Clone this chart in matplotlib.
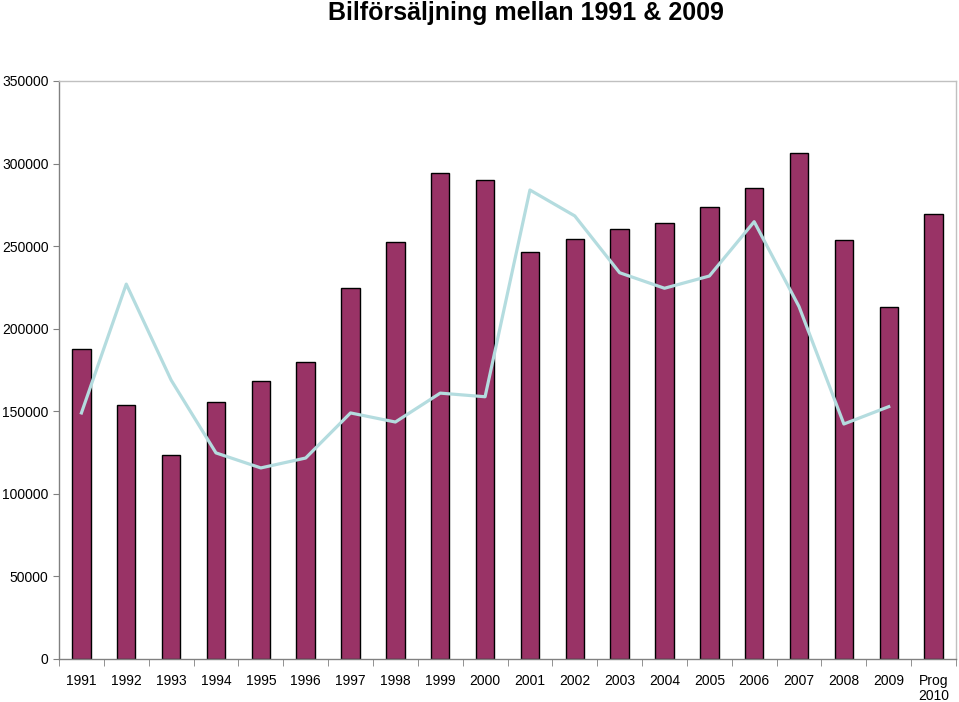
import matplotlib.pyplot as plt
import numpy as np

plt.rcParams['font.family'] = ['Liberation Sans', 'DejaVu Sans']

# data
years = ["1991", "1992", "1993", "1994", "1995", "1996", "1997", "1998", "1999", "2000",
         "2001", "2002", "2003", "2004", "2005", "2006", "2007", "2008", "2009", "Prog\n2010"]
bar_values = [188000, 154000, 123500, 155600, 168500, 180000, 224800, 252500, 294500, 290000,
              246500, 254500, 260500, 263800, 273800, 285500, 306500, 253800, 213200, 269500]
line_values = [149000, 227000, 168900, 124800, 115700, 121700, 149000, 143500, 161000, 158800,
               284000, 268300, 233900, 224500, 231900, 264800, 213400, 142300, 152800]

fig = plt.figure(figsize=(9.59, 7.02), dpi=100)
ax = fig.add_axes([59 / 959, 1 - 659 / 702, (956 - 59) / 959, (659 - 81) / 702])

x = np.arange(len(years))
ax.bar(x, bar_values, width=0.41, color="#993366", edgecolor="black", linewidth=1.0, zorder=2)
ax.plot(x[:len(line_values)], line_values, color="#B4DCDF", linewidth=2.3, zorder=3)

ax.set_xlim(-0.5, len(years) - 0.5)
ax.set_ylim(0, 350000)
ax.set_yticks(np.arange(0, 350001, 50000))
ax.set_yticklabels([str(v) for v in range(0, 350001, 50000)], fontsize=10)

ax.set_xticks(x)
ax.set_xticklabels(years, fontsize=10, linespacing=1.1)
ax.set_xticks(np.arange(-0.5, len(years), 1), minor=True)
ax.tick_params(axis="x", which="major", length=0, pad=11)
ax.tick_params(axis="x", which="minor", length=5, color="#808080", direction="out")
ax.tick_params(axis="y", length=4, color="#808080", direction="out", pad=3.5)

for side in ["left", "bottom"]:
    ax.spines[side].set_color("#808080")
    ax.spines[side].set_linewidth(1.0)
for side in ["top", "right"]:
    ax.spines[side].set_color("#C0C0C0")
    ax.spines[side].set_linewidth(1.0)

fig.text(526 / 959, 1 - 13 / 702, "Bilförsäljning mellan 1991 & 2009",
         ha="center", va="center", fontsize=18, fontweight="bold")

fig.savefig("out.png", dpi=100)
